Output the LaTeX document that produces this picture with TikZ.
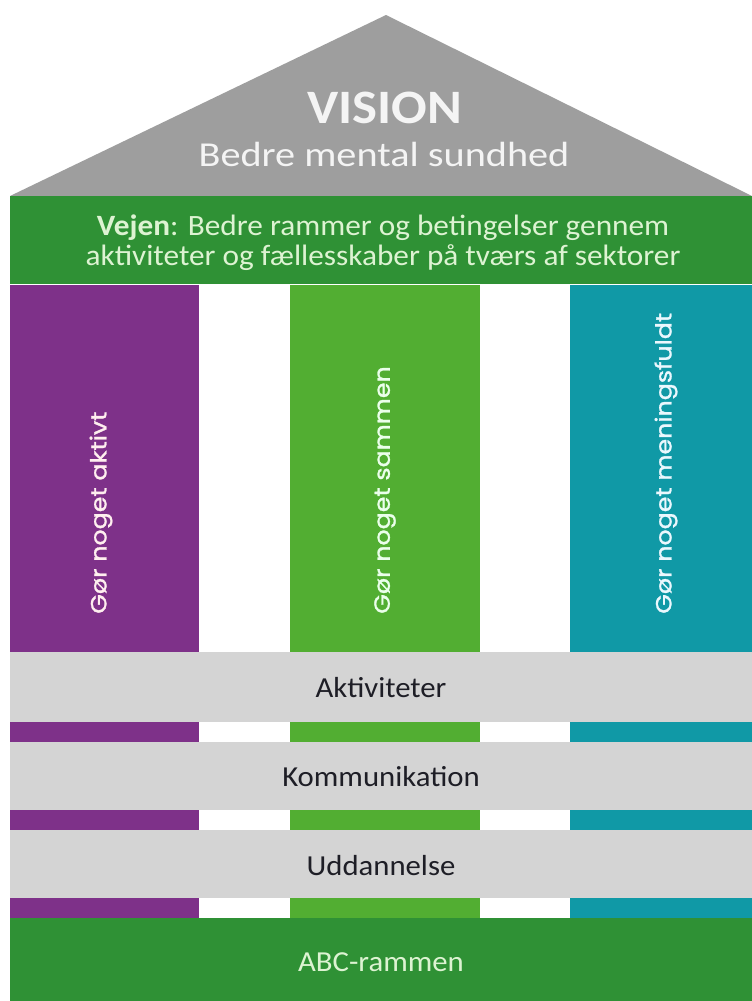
\documentclass[tikz,border=0pt]{standalone}
\usepackage{fontspec}
\setmainfont{Carlito}[FakeStretch=1.06]
\newfontfamily\visionfont{Carlito}[FakeStretch=1.10]
\newfontfamily\subfont{Carlito}[FakeStretch=1.15]
\newfontfamily\geofont{Poppins}[FakeStretch=1.15,FakeBold=1.3]
\definecolor{roofgray}{HTML}{9E9E9E}
\definecolor{dkgreen}{HTML}{2F9135}
\definecolor{pillarpurple}{HTML}{7E3189}
\definecolor{pillargreen}{HTML}{52AE32}
\definecolor{pillarteal}{HTML}{1099A6}
\definecolor{bandgray}{HTML}{D4D4D4}
\definecolor{vtext}{HTML}{F4F4F4}
\definecolor{gtext}{HTML}{DDF3D2}
\definecolor{btext}{HTML}{1E1E26}
\begin{document}
\begin{tikzpicture}[x=1pt,y=-1pt,
  coltext/.style={rotate=90,anchor=west,inner sep=0pt,font=\geofont\fontsize{22}{24}\selectfont},
  bandtext/.style={text=btext,font=\fontsize{29}{31}\selectfont},
]
\useasboundingbox (0,0) rectangle (752,1001);
\fill[white] (0,0) rectangle (752,1001);
% roof
\fill[roofgray] (10,196) -- (386,15) -- (752,196) -- cycle;
\node[text=vtext,font=\visionfont\bfseries\fontsize{48}{50}\selectfont] (vision) at (385,108) {VISION};
\node[text=vtext,font=\subfont\fontsize{35}{38}\selectfont] (vsub) at (384,154) {Bedre mental sundhed};
% vejen band
\fill[dkgreen] (10,196) rectangle (752,284);
\node[text=gtext,font=\fontsize{29.5}{30}\selectfont,align=center] (vejen) at (383,243)
  {\textbf{Vejen}: Bedre rammer og betingelser gennem\\aktiviteter og fællesskaber på tværs af sektorer};
% pillars
\fill[pillarpurple] (10,285) rectangle (199,918);
\fill[pillargreen] (290,285) rectangle (480,918);
\fill[pillarteal] (570,285) rectangle (752,918);
\node[coltext,text=pink!25] (p1) at (101,614) {Gør noget aktivt};
\node[coltext,text=green!8] (p2) at (385,614) {Gør noget sammen};
\node[coltext,text=cyan!8] (p3) at (666,614) {Gør noget meningsfuldt};
% gray bands
\fill[bandgray] (10,652) rectangle (752,722);
\fill[bandgray] (10,742) rectangle (752,810);
\fill[bandgray] (10,830) rectangle (752,898);
\node[bandtext] (b1) at (381,688) {Aktiviteter};
\node[bandtext] (b2) at (381,777) {Kommunikation};
\node[bandtext] (b3) at (381,866) {Uddannelse};
% base
\fill[dkgreen] (10,918) rectangle (752,1001);
\node[text=gtext,font=\fontsize{29}{31}\selectfont] (abc) at (381,962) {ABC-rammen};
\end{tikzpicture}
\end{document}
